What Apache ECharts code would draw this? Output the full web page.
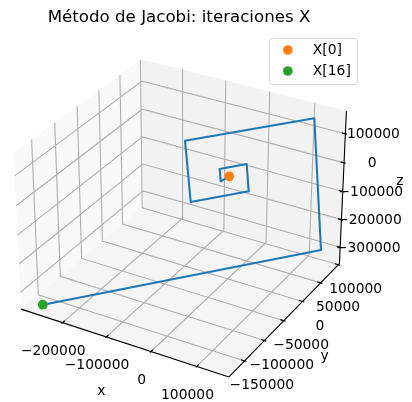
<!DOCTYPE html>
<html>
<head>
<meta charset="utf-8">
<script src="https://cdn.jsdelivr.net/npm/echarts@6/dist/echarts.min.js"></script>
<style>html,body{margin:0;padding:0;background:#fff}#main{width:412px;height:402px}</style>
</head>
<body>
<div id="main"></div>
<script>
// iterates X[0] .. X[16]
var pathX = [-7000, -7000, -6000, -6000, -8000, -8000, -5000, -5500, -18800, -21800, 15300, 22100, -58900, -74300, 110300, 140000, -265000];
var pathY = [8700, 8500, 9500, 9500, 8000, 8000, 10500, 10500, 500, 1000, 27400, 26000, -29600, -27000, 90000, 85000, -170000];
var pathZ = [-10300, -9000, -9000, -12000, -12000, -7500, -7500, -15000, -22900, 17600, 19500, -70500, -75800, 124200, 143500, -300100, -353000];

var xTicks = [-200000, -100000, 0, 100000];
var yTicks = [-150000, -100000, -50000, 0, 50000, 100000];
var zTicks = [-300000, -200000, -100000, 0, 100000];

var xLim = [-297000, 169000];
var yLim = [-188000, 103000];
var zLim = [-360000, 177000];

var titleText = 'Método de Jacobi: iteraciones X';
var fontName = '"DejaVu Sans"';

// same camera as a default mplot3d axes: elev 30, azim -60, dist 10, box 4:4:3
var k = 1.8294640721620434 * 25 / 24 / Math.sqrt(41);
var pb = [4 * k, 4 * k, 3 * k];
var el = 30 * Math.PI / 180, az = -60 * Math.PI / 180;
var w = [Math.cos(el) * Math.cos(az), Math.cos(el) * Math.sin(az), Math.sin(el)];
var eye = [pb[0] / 2 + 10 * w[0], pb[1] / 2 + 10 * w[1], pb[2] / 2 + 10 * w[2]];
var u = [-w[1], w[0], 0];
var un = Math.sqrt(u[0] * u[0] + u[1] * u[1]);
u = [u[0] / un, u[1] / un, 0];
var v = [w[1] * u[2] - w[2] * u[1], w[2] * u[0] - w[0] * u[2], w[0] * u[1] - w[1] * u[0]];

function dot(a, b) { return a[0] * b[0] + a[1] * b[1] + a[2] * b[2]; }

// 3d data -> value on the hidden 2d axes
function project(x, y, z) {
    var p = [
        (x - xLim[0]) / (xLim[1] - xLim[0]) * pb[0] - eye[0],
        (y - yLim[0]) / (yLim[1] - yLim[0]) * pb[1] - eye[1],
        (z - zLim[0]) / (zLim[1] - zLim[0]) * pb[2] - eye[2]
    ];
    var d = -dot(w, p);
    return [2000.5 * dot(u, p) / d + 183.2, 210.42 - 1998.7 * dot(v, p) / d];
}

var x0 = xLim[0], x1 = xLim[1], y0 = yLim[0], y1 = yLim[1], z0 = zLim[0], z1 = zLim[1];
var xd = (x1 - x0) / 12, yd = (y1 - y0) / 12;

var panes = [
    { color: '#f9f9f9', pts: [[x0, y0, z0], [x0, y1, z0], [x0, y1, z1], [x0, y0, z1]] },
    { color: '#f2f2f2', pts: [[x0, y1, z0], [x1, y1, z0], [x1, y1, z1], [x0, y1, z1]] },
    { color: '#f5f5f5', pts: [[x0, y0, z0], [x1, y0, z0], [x1, y1, z0], [x0, y1, z0]] }
];

var gridLines = [];
xTicks.forEach(function (t) { gridLines.push([[t, y0, z0], [t, y1, z0], [t, y1, z1]]); });
yTicks.forEach(function (t) { gridLines.push([[x1, t, z0], [x0, t, z0], [x0, t, z1]]); });
zTicks.forEach(function (t) { gridLines.push([[x0, y0, t], [x0, y1, t], [x1, y1, t]]); });

var axisLines = [
    [[x0, y0, z0], [x1, y0, z0]],
    [[x1, y0, z0], [x1, y1, z0]],
    [[x1, y1, z0], [x1, y1, z1]]
];
xTicks.forEach(function (t) { axisLines.push([[t, y0 - 0.1 * yd, z0], [t, y0 + 0.2 * yd, z0]]); });
yTicks.forEach(function (t) { axisLines.push([[x1 + 0.1 * xd, t, z0], [x1 - 0.2 * xd, t, z0]]); });
zTicks.forEach(function (t) { axisLines.push([[x1 + 0.1 * xd, y1, t], [x1 - 0.2 * xd, y1, t]]); });

function tickText(t) { return String(t).replace('-', '\u2212'); }

var labels = [];
xTicks.forEach(function (t) { labels.push({ at: [t, y0, z0], dx: -9.3, dy: 28.6, text: tickText(t) }); });
yTicks.forEach(function (t) { labels.push({ at: [x1, t, z0], dx: 17.3, dy: 24.6, text: tickText(t) }); });
zTicks.forEach(function (t) { labels.push({ at: [x1, y1, t], dx: 28, dy: 0.8, text: tickText(t) }); });
labels.push({ at: [(x0 + x1) / 2, y0, z0], dx: -21, dy: 49, text: 'x' });
labels.push({ at: [x1, (y0 + y1) / 2, z0], dx: 38, dy: 39, text: 'y' });
labels.push({ at: [x1, y1, (z0 + z1) / 2], dx: 57, dy: -8, text: 'z' });

function coords(api, pts) {
    return pts.map(function (p) { return api.coord(project(p[0], p[1], p[2])); });
}

var pathData = pathX.map(function (x, i) { return project(x, pathY[i], pathZ[i]); });
var last = pathX.length - 1;

var myChart = echarts.init(document.getElementById('main'), null, { renderer: 'canvas' });

var option = {
    animation: false,
    title: {
        text: titleText,
        left: 174,
        top: 4,
        textAlign: 'center',
        textStyle: { fontFamily: fontName, fontSize: 16.67, fontWeight: 'normal', color: '#000' }
    },
    // legend frame, the legend itself only holds the items
    graphic: [{
        type: 'rect',
        z: 5,
        silent: true,
        shape: { x: 269.5, y: 38.5, width: 88, height: 46, r: 3 },
        style: { fill: 'rgba(255,255,255,0.8)', stroke: '#d6d6d6', lineWidth: 1 }
    }],
    legend: {
        z: 6,
        left: 278,
        top: 38,
        orient: 'vertical',
        data: [{ name: 'X[0]', icon: 'circle' }, { name: 'X[16]', icon: 'circle' }],
        itemWidth: 28,
        itemHeight: 9.7,
        itemGap: 7,
        padding: [5, 7, 5, 5],
        selectedMode: false,
        textStyle: { fontFamily: fontName, fontSize: 13.89, color: '#000', padding: [0, 0, 0, 6] }
    },
    grid: { left: 0, right: 0, top: 0, bottom: 0 },
    xAxis: { type: 'value', min: 0, max: 412, show: false },
    yAxis: { type: 'value', min: 0, max: 402, inverse: true, show: false },
    series: [
        {
            type: 'custom',
            silent: true,
            clip: false,
            z: 1,
            data: panes.map(function (p, i) { return i; }),
            renderItem: function (params, api) {
                var pane = panes[api.value(0)];
                return { type: 'polygon', shape: { points: coords(api, pane.pts) }, style: { fill: pane.color } };
            }
        },
        {
            type: 'custom',
            silent: true,
            clip: false,
            z: 1,
            data: gridLines.map(function (p, i) { return i; }),
            renderItem: function (params, api) {
                return {
                    type: 'polyline',
                    shape: { points: coords(api, gridLines[api.value(0)]) },
                    style: { fill: 'none', stroke: '#b0b0b0', lineWidth: 1.11 }
                };
            }
        },
        {
            type: 'custom',
            silent: true,
            clip: false,
            z: 1,
            data: axisLines.map(function (p, i) { return i; }),
            renderItem: function (params, api) {
                return {
                    type: 'polyline',
                    shape: { points: coords(api, axisLines[api.value(0)]) },
                    style: { fill: 'none', stroke: '#000', lineWidth: 1.11 }
                };
            }
        },
        {
            name: 'X',
            type: 'line',
            z: 3,
            data: pathData,
            showSymbol: false,
            clip: false,
            lineStyle: { color: '#1f77b4', width: 2.08, cap: 'square', join: 'round' }
        },
        {
            name: 'X[0]',
            type: 'scatter',
            z: 4,
            data: [pathData[0]],
            symbolSize: 9.7,
            clip: false,
            itemStyle: { color: '#ff7f0e', opacity: 1 }
        },
        {
            name: 'X[16]',
            type: 'scatter',
            z: 4,
            data: [pathData[last]],
            symbolSize: 9.7,
            clip: false,
            itemStyle: { color: '#2ca02c', opacity: 1 }
        },
        {
            type: 'custom',
            silent: true,
            clip: false,
            z: 2,
            data: labels.map(function (p, i) { return i; }),
            renderItem: function (params, api) {
                var lab = labels[api.value(0)];
                var pos = coords(api, [lab.at])[0];
                return {
                    type: 'text',
                    style: {
                        text: lab.text,
                        x: pos[0] + lab.dx,
                        y: pos[1] + lab.dy,
                        align: 'center',
                        verticalAlign: 'middle',
                        fontFamily: fontName,
                        fontSize: 13.89,
                        fill: '#000'
                    }
                };
            }
        }
    ]
};
myChart.setOption(option);
</script>
</body>
</html>
